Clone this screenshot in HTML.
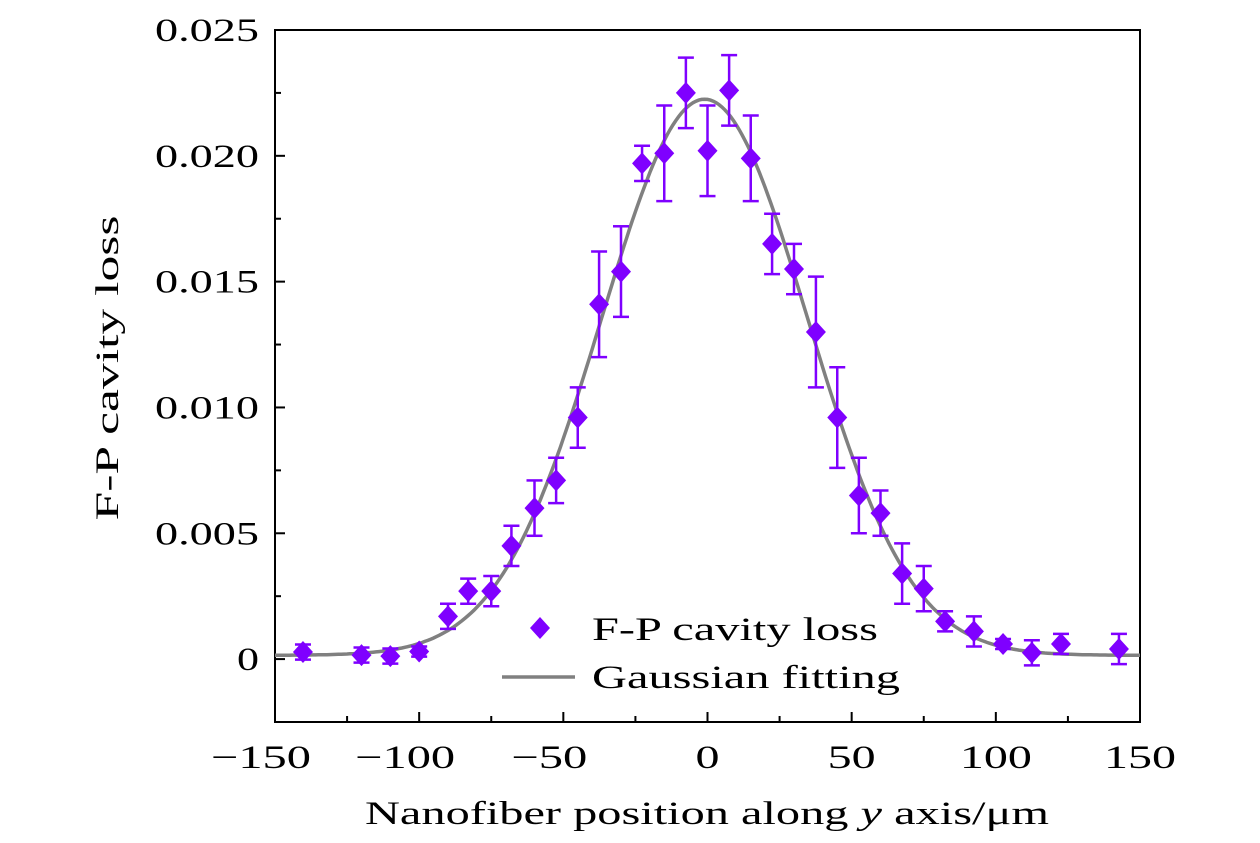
<!DOCTYPE html>
<html><head><meta charset="utf-8"><style>
html,body{margin:0;padding:0;background:#fff;}
svg{display:block;font-family:"Liberation Serif",serif;}
</style></head><body>
<svg id="chart" width="1260" height="843" viewBox="0 0 1260 843">
<g id="plot"></g>
</svg>
<script>
const xPositions = [-140.3,-120,-110,-100,-90,-83,-75,-68,-60,-52.5,-45,-37.6,-30,-22.7,-15,-7.5,0,7.5,15,22.4,30,37.6,45,52.5,60,67.5,75,82.4,92.4,102.5,112.5,122.6,142.7];
const lossValues = [0.00028,0.00016,0.00012,0.0003,0.0017,0.0027,0.0027,0.0045,0.006,0.0071,0.0096,0.0141,0.0154,0.0197,0.0201,0.0225,0.0202,0.0226,0.0199,0.0165,0.0155,0.013,0.0096,0.0065,0.0058,0.0034,0.0028,0.0015,0.0011,0.0006,0.00025,0.0006,0.0004];
const lossErrors = [0.0003,0.0003,0.0003,0.0002,0.0005,0.0005,0.0006,0.0008,0.0011,0.0009,0.0012,0.0021,0.0018,0.0007,0.0019,0.0014,0.0018,0.0014,0.0017,0.0012,0.001,0.0022,0.002,0.0015,0.0009,0.0012,0.0009,0.0004,0.0006,0.0002,0.0005,0.0004,0.0006];
const fitParams = [0.0221, -1, 35.7, 0.00015]; // amplitude, center, sigma, baseline
const xTicks = [-150,-100,-50,0,50,100,150];
const xTickLabels = ["\u2212150","\u2212100","\u221250","0","50","100","150"];
const yTicks = [0,0.005,0.010,0.015,0.020,0.025];
const yTickLabels = ["0","0.005","0.010","0.015","0.020","0.025"];

const L=275,R=1140,T=30,B=722;
const xMin=-150,xMax=150,yMin=-0.0025,yMax=0.025;
const sx=v=>L+(v-xMin)/(xMax-xMin)*(R-L);
const sy=v=>B-(v-yMin)/(yMax-yMin)*(B-T);
const NS="http://www.w3.org/2000/svg";
const svg=document.getElementById('chart');
function mk(tag,attrs,parent){const e=document.createElementNS(NS,tag);for(const k in attrs)e.setAttribute(k,attrs[k]);(parent||svg).appendChild(e);return e;}
const CW=24; // approx char width for digits in reference

const frame=mk('rect',{x:L,y:T,width:R-L,height:B-T,fill:'none',stroke:'#000','stroke-width':2});



for(let v=-150;v<=150;v+=25){
  const major=(v%50===0);
  const t=mk('line',{x1:sx(v),x2:sx(v),y1:B,y2:B-(major?10:6),stroke:'#000','stroke-width':2});
  
  
}
xTicks.forEach((v,i)=>{
  const s=xTickLabels[i];
  const neg=s.startsWith('\u2212');
  const w=(neg?s.length-1:s.length)*CW+(neg?28:0);
  const t=mk('text',{x:sx(v)-(neg?14:0),y:B+46,'text-anchor':'middle','font-size':33,textLength:w,lengthAdjust:'spacingAndGlyphs'});
  t.textContent=s;
  
  
});
for(let k=0;k<=10;k++){
  const v=k*0.0025;const major=(k%2===0);
  const t=mk('line',{x1:L,x2:L+(major?10:6),y1:sy(v),y2:sy(v),stroke:'#000','stroke-width':2});
  
  
}
yTicks.forEach((v,i)=>{
  const s=yTickLabels[i];
  const w=s.length>1?(s.length-1)*CW+8:CW-2;
  const t=mk('text',{x:L-16,y:sy(v)+11,'text-anchor':'end','font-size':33,textLength:w,lengthAdjust:'spacingAndGlyphs'});
  t.textContent=s;
  
  
});
const xt=mk('text',{x:707,y:824,'text-anchor':'middle','font-size':33,textLength:684,lengthAdjust:'spacingAndGlyphs'});
xt.innerHTML='Nanofiber position along <tspan font-style="italic">y</tspan> axis/\u03bcm';


const yt=mk('text',{x:0,y:0,'text-anchor':'middle','font-size':33,textLength:305,lengthAdjust:'spacingAndGlyphs',transform:'translate(118,368) rotate(-90)'});
yt.textContent='F-P cavity loss';



const [A,xc,sg,y0]=fitParams;
let d='';
for(let x=xMin;x<=xMax;x+=1){const y=y0+A*Math.exp(-(x-xc)*(x-xc)/(2*sg*sg));d+=(d?'L':'M')+sx(x).toFixed(1)+','+sy(y).toFixed(1);}
const fit=mk('path',{d:d,fill:'none',stroke:'#808080','stroke-width':3.5});



const col='#7f00ff';
xPositions.forEach((x,i)=>{
  const cx=sx(x),cy=sy(lossValues[i]),y1=sy(lossValues[i]+lossErrors[i]),y2=sy(lossValues[i]-lossErrors[i]);
  const g=mk('g',{});
  
  
  mk('line',{x1:cx,x2:cx,y1:y1,y2:y2,stroke:col,'stroke-width':2.5},g);
  mk('line',{x1:cx-8,x2:cx+8,y1:y1,y2:y1,stroke:col,'stroke-width':2.5},g);
  mk('line',{x1:cx-8,x2:cx+8,y1:y2,y2:y2,stroke:col,'stroke-width':2.5},g);
  mk('path',{d:`M${cx},${cy-11}L${cx+10},${cy}L${cx},${cy+11}L${cx-10},${cy}Z`,fill:col},g);
});

const lg=mk('g',{});


mk('path',{d:'M540,617L550,628L540,639L530,628Z',fill:col},lg);
const l1=mk('text',{x:592,y:640,'font-size':33,textLength:286,lengthAdjust:'spacingAndGlyphs'},lg);l1.textContent='F-P cavity loss';


mk('line',{x1:502,x2:575,y1:677,y2:677,stroke:'#808080','stroke-width':3.5},lg);
const l2=mk('text',{x:592,y:688,'font-size':33,textLength:308,lengthAdjust:'spacingAndGlyphs'},lg);l2.textContent='Gaussian fitting';


</script>
</body></html>
